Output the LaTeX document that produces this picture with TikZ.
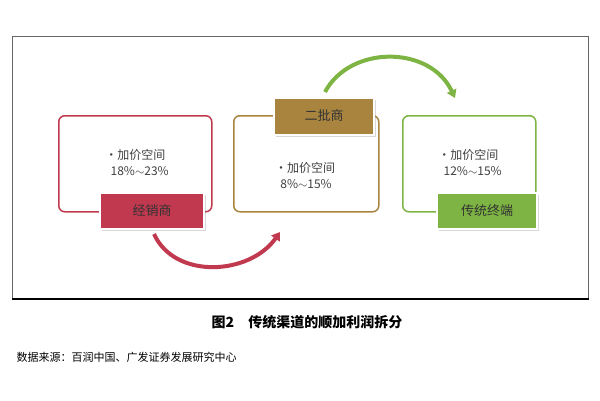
\documentclass[tikz,border=0pt]{standalone}
\usepackage{fontspec}
\setmainfont{Liberation Serif}
\newfontfamily\cjk{Noto Sans CJK SC}
\usetikzlibrary{arrows.meta,shadows}
\definecolor{cred}{HTML}{C0394F}
\definecolor{cgold}{HTML}{A8843F}
\definecolor{cgreen}{HTML}{7DB443}
\begin{document}
\begin{tikzpicture}[x=1pt,y=-1pt,
  outer/.style={draw=#1,line width=1.5pt,rounded corners=6pt,fill=white},
  tag/.style={fill=#1,draw=white,line width=2pt,drop shadow={opacity=0.3},font=\cjk\fontsize{13}{13}\selectfont,text=black!80},
  txt/.style={font=\cjk\fontsize{12}{16}\selectfont,text=black!75,align=left},
  arc/.style={line width=4pt,#1,-{Triangle[length=8pt,width=10pt]}}]
\useasboundingbox (0,0) rectangle (600,400);
\fill[white] (0,0) rectangle (600,400);
\node[draw=black!60,line width=1pt,minimum width=576pt,minimum height=262pt,anchor=north west,inner sep=0] (frame) at (12,36) {};
\draw[black,line width=2pt] (frame.south west) -- (frame.south east);
\node[outer=cred,minimum width=153pt,minimum height=96pt,anchor=north west] (b1) at (58,115) {};
\node[outer=cgold,minimum width=145pt,minimum height=96pt,anchor=north west] (b2) at (233,115) {};
\node[outer=cgreen,minimum width=133pt,minimum height=96pt,anchor=north west] (b3) at (402,115) {};
\node[txt] (t1) at (137,162) {•加价空间\\\ \ 18\%$\sim$23\%};
\node[txt] (t2) at (305,175) {•加价空间\\\ \ 8\%$\sim$15\%};
\node[txt] (t3) at (470,162) {•加价空间\\\ \ 12\%$\sim$15\%};
\node[tag=cred,minimum width=104pt,minimum height=36pt] (l1) at (152,211) {经销商};
\node[tag=cgold,minimum width=100pt,minimum height=37pt] (l2) at (324,116) {二批商};
\node[tag=cgreen,minimum width=100pt,minimum height=36pt] (l3) at (487,211) {传统终端};
\coordinate (r0) at (154,234);
\coordinate (r1) at (280,232);
\draw[arc=cred] (r0) .. controls (175,280) and (250,275) .. (r1);
\coordinate (g0) at (325,92);
\coordinate (g1) at (455,98);
\draw[arc=cgreen] (g0) .. controls (350,45) and (430,45) .. (g1);
\node[font=\cjk\bfseries\fontsize{14}{14}\selectfont] (cap) at (307,322) {图2\quad 传统渠道的顺加利润拆分};
\node[font=\cjk\fontsize{11}{11}\selectfont,anchor=west] (src) at (13,357) {数据来源：百润中国、广发证券发展研究中心};
\end{tikzpicture}
\end{document}
